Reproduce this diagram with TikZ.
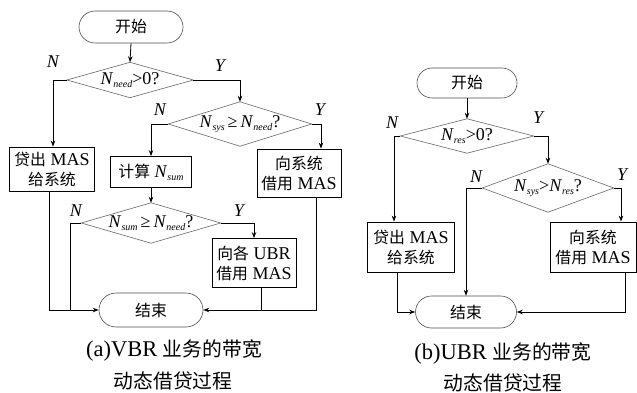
\documentclass[tikz,border=0pt]{standalone}
\usepackage{fontspec}
\setmainfont{Liberation Serif}
\newfontfamily\cjkfont{Noto Sans CJK SC}[Scale=0.88]
\usetikzlibrary{arrows.meta,calc}
\newcommand{\zh}[1]{{\cjkfont #1}}
\newcommand{\Nsb}[1]{\textit{N}\raisebox{-0.35ex}{\fontsize{10}{10}\selectfont\textit{#1}}}
\tikzset{
  every node/.style={font=\fontsize{18}{20}\selectfont},
  term/.style={draw=black!70, line width=0.6pt, rectangle, rounded corners=15pt, inner sep=0pt},
  dec/.style={rectangle, inner sep=0pt},
  dshape/.style={draw=black!60, line width=0.6pt},
  proc/.style={draw=black, line width=0.8pt, rectangle, inner sep=0pt, align=center},
  lbl/.style={font=\fontsize{18}{18}\selectfont\itshape, inner sep=0pt},
  captext/.style={font=\fontsize{22.5}{24}\selectfont, inner sep=0pt},
  conn/.style={draw=black, line width=0.8pt},
  arr/.style={conn, -{Stealth[length=6pt,width=4.5pt]}}
}
\begin{document}
\begin{tikzpicture}[x=1pt,y=-1pt]
\useasboundingbox (0,0) rectangle (637,393);
% ---------- (a) ----------
\node[term, minimum width=104pt, minimum height=32pt, rounded corners=16pt] (s1) at (131,27) {\zh{开始}};
\node[dec, minimum width=126pt, minimum height=35pt] (d1) at (130,80) {\Nsb{need}>0?};
\node[dec, minimum width=143pt, minimum height=44pt] (d2) at (240,124) {\Nsb{sys}\,≥\,\Nsb{need}?};
\node[proc, minimum width=85pt, minimum height=44pt] (b1) at (52,169) {\zh{贷出} MAS\\\zh{给系统}};
\node[proc, minimum width=81pt, minimum height=31pt] (b2) at (151,172) {\zh{计算} \Nsb{sum}};
\node[proc, minimum width=84pt, minimum height=48pt] (b3) at (299,173) {\zh{向系统}\\\zh{借用} MAS};
\node[dec, minimum width=139pt, minimum height=40pt] (d3) at (151,223) {\Nsb{sum}\,≥\,\Nsb{need}?};
\node[proc, minimum width=84pt, minimum height=49pt] (b4) at (254,263) {\zh{向各} UBR\\\zh{借用} MAS};
\node[term, minimum width=104pt, minimum height=34pt, rounded corners=17pt] (e1) at (151,310) {\zh{结束}};
\foreach \d in {d1,d2,d3}{
  \draw[dshape] (\d.west) -- (\d.north) -- (\d.east) -- (\d.south) -- cycle;
}
\coordinate (b1o) at ([xshift=-3pt]b1.south);
\coordinate (b3o) at ([xshift=17pt]b3.south);
\coordinate (b3i) at ([xshift=22pt]b3.north);
\coordinate (b4o) at ([xshift=7pt]b4.south);
\coordinate (d3j) at ([xshift=-28pt]e1.west);
\draw[arr] (s1.south) -- (d1.north);
\draw[arr] (d1.west) -| ([xshift=1pt]b1.north);
\draw[arr] (d1.east) -| (d2.north);
\draw[arr] (d2.west) -| (b2.north);
\draw[arr] (d2.east) -| (b3i);
\draw[arr] (b2.south) -- (d3.north);
\draw[arr] (d3.east) -| (b4.north);
\draw[conn] (d3.west) -| (d3j);
\draw[arr] (b1o) |- (e1.west);
\draw[arr] (b3o) |- (e1.east);
\draw[conn] (b4o) -- (b4o |- e1.east);
\node[lbl] (n1) at (53,62) {N};
\node[lbl] (y1) at (220,66) {Y};
\node[lbl] (n2) at (160,110) {N};
\node[lbl] (y2) at (320,110) {Y};
\node[lbl] (n3) at (76,211) {N};
\node[lbl] (y3) at (239,211) {Y};
\node[captext] (c1) at (174,350) {(a)VBR \zh{业务的带宽}};
\node[captext] (c2) at (173,381) {\zh{动态借贷过程}};
% ---------- (b) ----------
\node[term, minimum width=100pt, minimum height=30pt] (s2) at (467,83) {\zh{开始}};
\node[dec, minimum width=133pt, minimum height=34pt] (r1) at (467,136) {\Nsb{res}>0?};
\node[dec, minimum width=131pt, minimum height=48pt] (r2) at (548,188) {\Nsb{sys}>\Nsb{res}?};
\node[proc, minimum width=87pt, minimum height=50pt] (rb1) at (411,247) {\zh{贷出} MAS\\\zh{给系统}};
\node[proc, minimum width=86pt, minimum height=50pt] (rb2) at (593,247) {\zh{向系统}\\\zh{借用} MAS};
\node[term, minimum width=101pt, minimum height=32pt, rounded corners=16pt] (e2) at (466,312) {\zh{结束}};
\foreach \d in {r1,r2}{
  \draw[dshape] (\d.west) -- (\d.north) -- (\d.east) -- (\d.south) -- cycle;
}
\coordinate (rb1i) at ([xshift=-17pt]rb1.north);
\coordinate (rb2i) at ([xshift=28pt]rb2.north);
\coordinate (rb1o) at ([xshift=-14pt]rb1.south);
\coordinate (rb2o) at ([xshift=32pt]rb2.south);
\draw[arr] (s2.south) -- (r1.north);
\draw[arr] (r1.west) -| (rb1i);
\draw[arr] (r1.east) -| (r2.north);
\draw[arr] (r2.west) -| (e2.north);
\draw[arr] (r2.east) -| (rb2i);
\draw[arr] (rb1o) |- (e2.west);
\draw[arr] (rb2o) |- (e2.east);
\node[lbl] (n4) at (392,123) {N};
\node[lbl] (y4) at (538,118) {Y};
\node[lbl] (n5) at (476,177) {N};
\node[lbl] (y5) at (622,175) {Y};
\node[captext] (c3) at (503,353) {(b)UBR \zh{业务的带宽}};
\node[captext] (c4) at (503,383) {\zh{动态借贷过程}};
\end{tikzpicture}
\end{document}
